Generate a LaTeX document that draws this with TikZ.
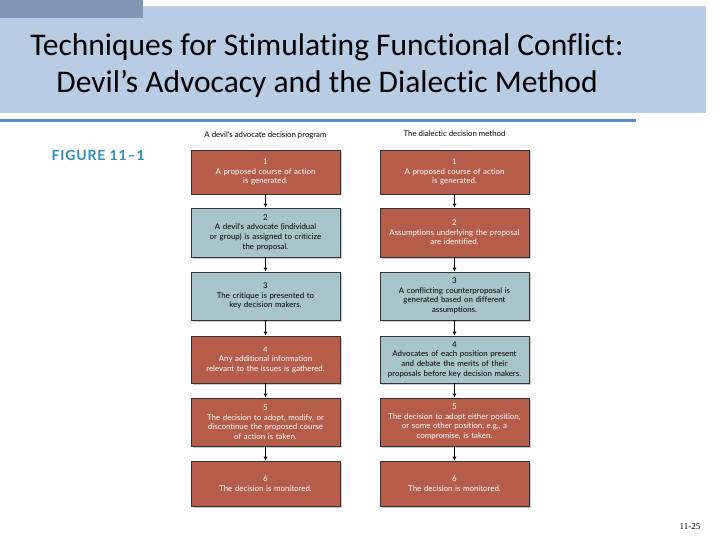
\documentclass[tikz,border=0pt]{standalone}
\usepackage{fontspec}
\setmainfont[Ligatures=NoCommon]{Carlito}
\newfontfamily\boxfont[Ligatures=NoCommon]{Lato}
\newfontfamily\figfont[LetterSpace=6]{Lato Bold}
\newfontfamily\pgfont{Liberation Serif}
\usetikzlibrary{arrows.meta,shadows}
\definecolor{band}{HTML}{B8CCE4}
\definecolor{bandd}{HTML}{7F97B4}
\definecolor{rule}{HTML}{5B8BC7}
\definecolor{redb}{HTML}{B55C4A}
\definecolor{blueb}{HTML}{A9C5CC}
\definecolor{figc}{HTML}{2B8DB8}
\tikzset{
  stepbox/.style={draw=black!80, line width=0.6pt, minimum width=149pt, text width=145pt, align=center,
    font=\boxfont\fontsize{7.9}{9.6}\selectfont, inner sep=2pt,
    drop shadow={shadow xshift=1.5pt, shadow yshift=-1.5pt, fill=black!35, opacity=0.6}},
  redbox/.style={stepbox, fill=redb, text=white},
  bluebox/.style={stepbox, fill=blueb, text=black},
  conn/.style={-{Latex[length=4pt,width=4pt]}, line width=0.8pt, black},
  hdr/.style={font=\boxfont\fontsize{7.8}{9}\selectfont, anchor=center}
}
\begin{document}
\begin{tikzpicture}[x=1pt,y=-1pt]
\useasboundingbox (0,0) rectangle (720,540);
% title band
\fill[band] (0,6) rectangle (706,113);
\fill[bandd] (0,0) rectangle (143,18);
\fill[rule] (0,119) rectangle (636,122);
\node[font=\fontsize{31.5}{37}\selectfont, align=center] (title) at (327,66)
  {Techniques for Stimulating Functional Conflict:\\Devil’s Advocacy and the Dialectic Method};
\node[font=\figfont\fontsize{14}{16}\selectfont, text=figc, anchor=west] (fig) at (48,155) {FIGURE 11–1};
\node[font=\pgfont\fontsize{9}{10}\selectfont] (pg) at (690,527) {11-25};
\node[hdr] (hl) at (265.5,135) {A devil's advocate decision program};
\node[hdr] (hr) at (454.5,134) {The dialectic decision method};
% left column
\node[redbox, minimum height=44pt] (l1) at (265.5,172) {1\\A proposed course of action\\is generated.};
\node[bluebox, minimum height=49pt] (l2) at (265.5,232.5) {2\\A devil's advocate (individual\\or group) is assigned to criticize\\the proposal.};
\node[bluebox, minimum height=48pt] (l3) at (265.5,296) {3\\The critique is presented to\\key decision makers.};
\node[redbox, minimum height=47pt] (l4) at (265.5,359.5) {4\\Any additional information\\relevant to the issues is gathered.};
\node[redbox, minimum height=48pt] (l5) at (265.5,422) {5\\The decision to adopt, modify, or\\discontinue the proposed course\\of action is taken.};
\node[redbox, minimum height=45pt] (l6) at (265.5,483.5) {6\\The decision is monitored.};
% right column
\node[redbox, minimum height=44pt] (r1) at (454.5,172) {1\\A proposed course of action\\is generated.};
\node[redbox, minimum height=49pt] (r2) at (454.5,232.5) {2\\Assumptions underlying the proposal\\are identified.};
\node[bluebox, minimum height=48pt] (r3) at (454.5,296) {3\\A conflicting counterproposal is\\generated based on different\\assumptions.};
\node[bluebox, minimum height=47pt] (r4) at (454.5,359.5) {4\\Advocates of each position present\\and debate the merits of their\\proposals before key decision makers.};
\node[redbox, minimum height=48pt] (r5) at (454.5,422) {5\\The decision to adopt either position,\\or some other position, e.g., a\\compromise, is taken.};
\node[redbox, minimum height=45pt] (r6) at (454.5,483.5) {6\\The decision is monitored.};
\foreach \a/\b in {l1/l2,l2/l3,l3/l4,l4/l5,l5/l6,r1/r2,r2/r3,r3/r4,r4/r5,r5/r6}
  \draw[conn] (\a.south) -- (\b.north);
\end{tikzpicture}
\end{document}
